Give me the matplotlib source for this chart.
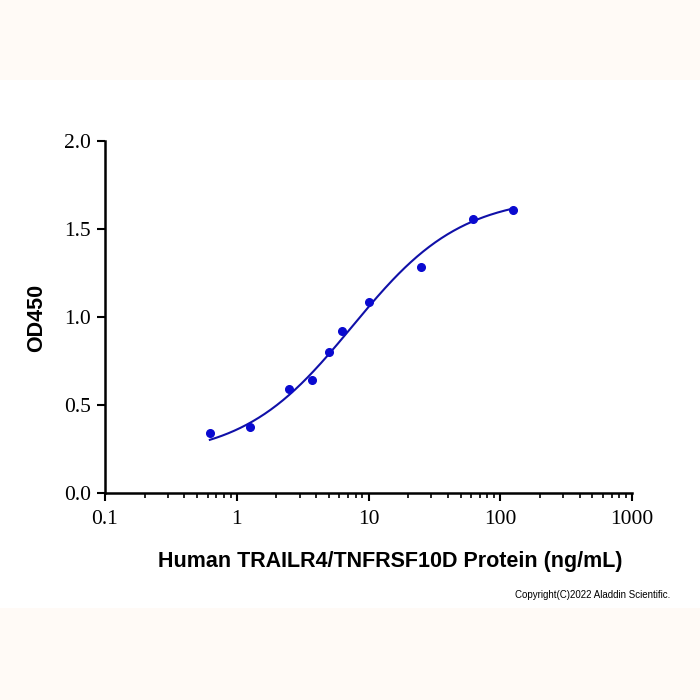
import numpy as np
import matplotlib
matplotlib.use("Agg")
import matplotlib.pyplot as plt
from matplotlib.patches import Rectangle
from matplotlib.ticker import LogLocator, FixedLocator, NullFormatter

# Données
concentration = [0.625, 1.25, 2.5, 3.75, 5.0, 6.25, 10.0, 25.0, 62.5, 125.0]
od450 = [0.341, 0.375, 0.59, 0.642, 0.80, 0.92, 1.085, 1.284, 1.557, 1.608]

# Paramètres 4PL estimés pour la courbe d'ajustement
bas, haut, ec50, pente = 0.20, 1.69, 7.5, 1.05

x_ticks = [0.1, 1, 10, 100, 1000]
x_labels = ["0.1", "1", "10", "100", "1000"]
y_ticks = [0.0, 0.5, 1.0, 1.5, 2.0]
y_labels = ["0.0", "0.5", "1.0", "1.5", "2.0"]


def logistique_4p(x):
    r = (x / ec50) ** pente
    return bas + (haut - bas) * r / (1 + r)


fig = plt.figure(figsize=(7, 7), dpi=100)
fig.patch.set_facecolor("white")
# bandeaux crème en haut et en bas
fig.patches.append(Rectangle((0, 1 - 80 / 700), 1, 80 / 700, transform=fig.transFigure,
                             facecolor="#fffaf6", edgecolor="none", zorder=0))
fig.patches.append(Rectangle((0, 0), 1, 92 / 700, transform=fig.transFigure,
                             facecolor="#fffaf6", edgecolor="none", zorder=0))

ax = fig.add_axes([105 / 700, 1 - 493 / 700, 527 / 700, 352 / 700])

xs = np.logspace(np.log10(concentration[0]), np.log10(concentration[-1]), 200)
ax.plot(xs, logistique_4p(xs), color="#1010a8", linewidth=1.5, zorder=2)
ax.plot(concentration, od450, "o", color="#0a0ad0", markersize=5.5, zorder=3)

ax.set_xscale("log")
ax.set_xlim(0.1, 1000)
ax.set_ylim(0, 2.0)
ax.xaxis.set_major_locator(FixedLocator(x_ticks))
ax.set_xticklabels(x_labels)
ax.xaxis.set_minor_locator(LogLocator(base=10, subs=np.arange(2, 10)))
ax.xaxis.set_minor_formatter(NullFormatter())
ax.set_yticks(y_ticks)
ax.set_yticklabels(y_labels)

for s in ["top", "right"]:
    ax.spines[s].set_visible(False)
for s in ["left", "bottom"]:
    ax.spines[s].set_linewidth(1.8)
    ax.spines[s].set_color("black")

ax.tick_params(axis="both", which="major", direction="out", length=6, width=1.5,
               labelsize=15.5, pad=4)
ax.tick_params(axis="x", which="major", pad=6)
ax.tick_params(axis="x", which="minor", direction="out", length=3.5, width=1.2)
for lab in ax.get_xticklabels() + ax.get_yticklabels():
    lab.set_fontfamily("Liberation Serif")

fig.text(37 / 700, 1 - 318 / 700, "OD450", fontsize=15.5, fontweight="bold",
         family="Liberation Sans", rotation=90, ha="center", va="center")
fig.text(390 / 700, 1 - 562 / 700, "Human TRAILR4/TNFRSF10D Protein (ng/mL)", fontsize=15.5,
         fontweight="bold", family="Liberation Sans", ha="center", va="center")

fig.text(670 / 700, 1 - 595 / 700, "Copyright(C)2022 Aladdin Scientific.", fontsize=7,
         family="Liberation Sans", ha="right", va="center")

plt.savefig("out.png", dpi=100)
